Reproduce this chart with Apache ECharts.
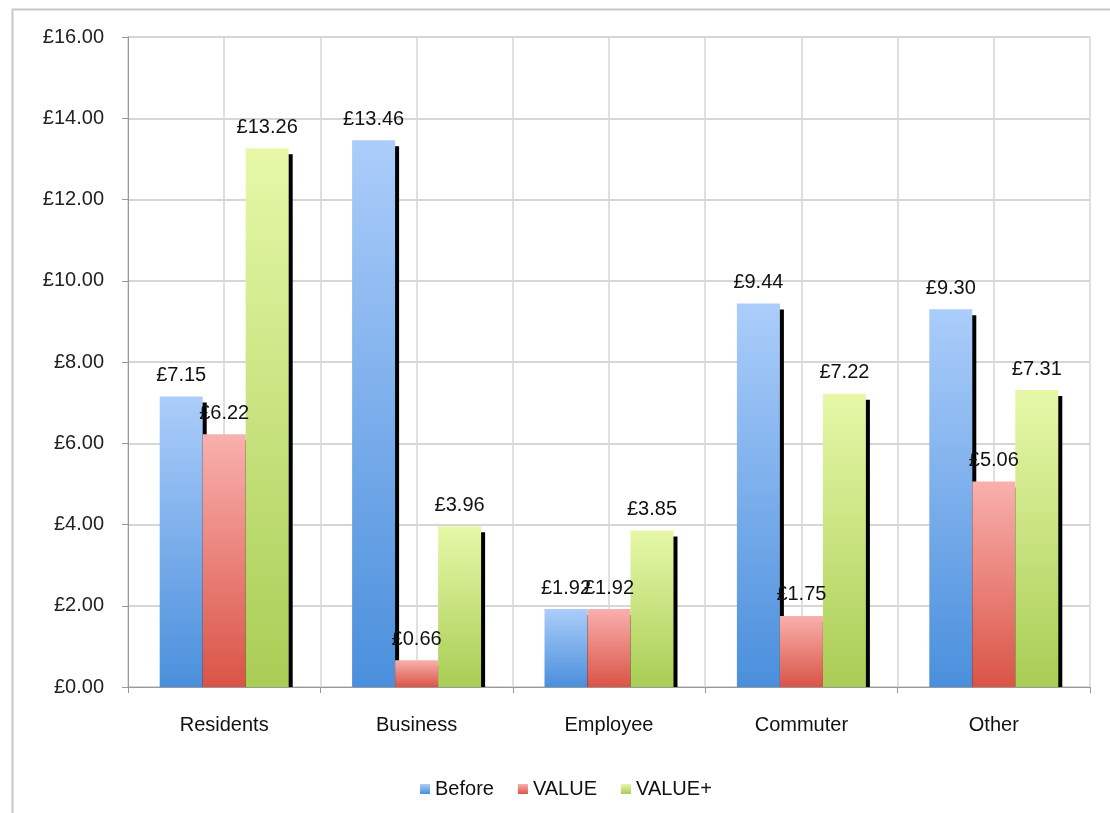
<!DOCTYPE html>
<html><head><meta charset="utf-8">
<script src="https://cdn.jsdelivr.net/npm/echarts@6/dist/echarts.min.js"></script>
<style>html,body{margin:0;padding:0;background:#fff}#c{width:1110px;height:813px}</style>
</head><body><div id="c"></div>
<script>
const categories = ['Residents', 'Business', 'Employee', 'Commuter', 'Other'];
const seriesNames = ['Before', 'VALUE', 'VALUE+'];
const before = [7.15, 13.46, 1.92, 9.44, 9.30];
const valueS = [6.22, 0.66, 1.92, 1.75, 5.06];
const valuePlus = [13.26, 3.96, 3.85, 7.22, 7.31];
const yTicks = [0, 2, 4, 6, 8, 10, 12, 14, 16];

const grads = [
  ['#abcdfa', '#4a8fdc'],
  ['#f9b0ad', '#da5446'],
  ['#e6f8a8', '#a9cd55']
];
function grad(i) {
  return new echarts.graphic.LinearGradient(0, 0, 0, 1, [
    { offset: 0, color: grads[i][0] }, { offset: 1, color: grads[i][1] }
  ]);
}
const font = 'Liberation Sans, Arial, sans-serif';
const chart = echarts.init(document.getElementById('c'));
const datas = [before, valueS, valuePlus];
const halfCats = [];
categories.forEach(c => { halfCats.push(c + 'a'); halfCats.push(c + 'b'); });

chart.setOption({
  animation: false,
  textStyle: { fontFamily: font },
  grid: { left: 128, right: 20, top: 37, bottom: 126 },
  graphic: [
    { type: 'rect', left: 10, top: 7, shape: { width: 1200, height: 900 }, style: { fill: 'none', stroke: '#c8c8c8', lineWidth: 2 }, z: -1 },
    { type: 'rect', left: 126, top: 688, shape: { width: 984, height: 10 }, style: { fill: '#fff' }, z: 5 }
  ],
  legend: {
    left: 415, top: 774, itemWidth: 10, itemHeight: 10, itemGap: 24,
    icon: 'rect',
    textStyle: { fontSize: 20, color: '#111', fontFamily: font },
    data: seriesNames
  },
  xAxis: [{
    type: 'category', data: categories, z: 10,
    axisLine: { lineStyle: { color: '#999' } },
    axisTick: { show: true, length: 6, lineStyle: { color: '#999' } },
    axisLabel: { fontSize: 20, color: '#111', margin: 28 },
    splitLine: { show: false }
  }, {
    type: 'category', data: halfCats, position: 'bottom',
    axisLine: { show: false }, axisTick: { show: false }, axisLabel: { show: false },
    splitLine: { show: true, interval: 0, lineStyle: { color: '#d6d6d6', width: 1.5 } }
  }],
  yAxis: {
    type: 'value', min: 0, max: 16, interval: 2,
    axisLine: { show: true, lineStyle: { color: '#999' } },
    axisTick: { show: true, length: 6, lineStyle: { color: '#999' } },
    axisLabel: { fontSize: 20, color: '#222', margin: 24, formatter: v => yTicks.includes(v) ? '£' + v.toFixed(2) : '' },
    splitLine: { show: true, lineStyle: { color: '#c8c8c8', width: 1.5 } }
  },
  series: seriesNames.map((n, i) => ({
    name: n, type: 'bar', xAxisIndex: 0, data: datas[i],
    barWidth: 43, barGap: '0%',
    itemStyle: { color: grad(i), shadowColor: '#000', shadowBlur: 0, shadowOffsetX: 4, shadowOffsetY: 6 },
    label: { show: true, position: 'top', distance: 11, fontSize: 20, color: '#111', fontFamily: font, formatter: p => '£' + p.value.toFixed(2) }
  }))
});
</script></body></html>
